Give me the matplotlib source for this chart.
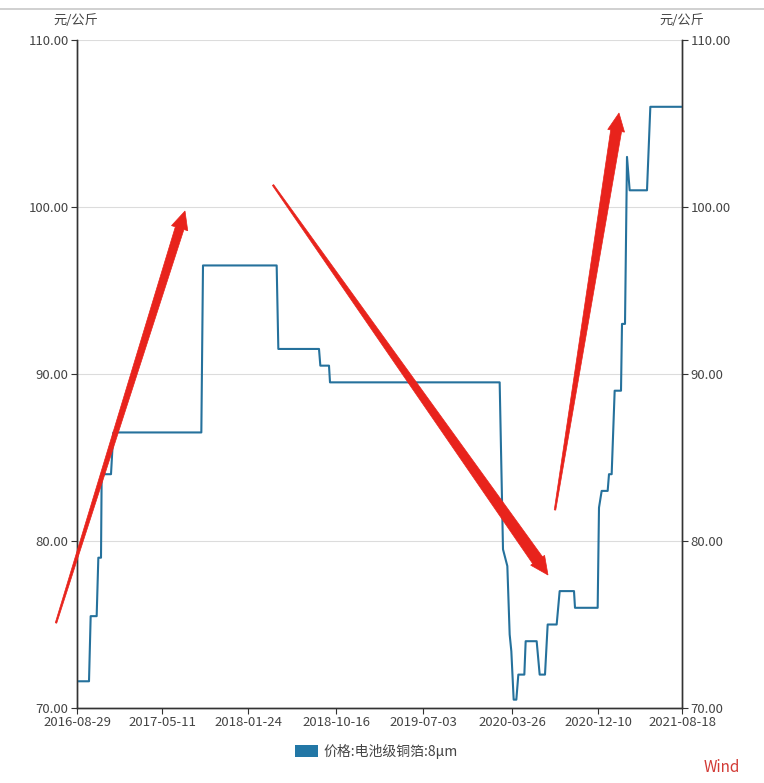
import matplotlib
matplotlib.use("Agg")
import matplotlib.pyplot as plt
import numpy as np
import pandas as pd
from matplotlib.patches import Patch, Polygon

plt.rcParams["font.family"] = ["Noto Sans CJK SC", "DejaVu Sans"]

# ── Data ──────────────────────────────────────────────────────────────────────

DATES = [
    "2016-08-29", "2016-10-04", "2016-10-09", "2016-10-27", "2016-11-01",
    "2016-11-09", "2016-11-11", "2016-12-09", "2016-12-16", "2017-09-06",
    "2017-09-11", "2018-04-20", "2018-04-25", "2018-08-25", "2018-08-29",
    "2018-09-24", "2018-09-27", "2020-02-18", "2020-02-28", "2020-03-12",
    "2020-03-19", "2020-03-24", "2020-03-31", "2020-04-08", "2020-04-14",
    "2020-05-02", "2020-05-06", "2020-06-08", "2020-06-17", "2020-07-03",
    "2020-07-11", "2020-08-07", "2020-08-16", "2020-09-28", "2020-10-01",
    "2020-12-08", "2020-12-12", "2020-12-20", "2021-01-07", "2021-01-11",
    "2021-01-19", "2021-01-28", "2021-02-16", "2021-02-19", "2021-02-28",
    "2021-03-06", "2021-03-14", "2021-05-05", "2021-05-15", "2021-08-18",
]
PRICES = [
    71.6, 71.6, 75.5, 75.5, 79.0,
    79.0, 84.0, 84.0, 86.5, 86.5,
    96.5, 96.5, 91.5, 91.5, 90.5,
    90.5, 89.5, 89.5, 79.5, 78.5,
    74.4, 73.4, 70.5, 70.5, 72.0,
    72.0, 74.0, 74.0, 72.0, 72.0,
    75.0, 75.0, 77.0, 77.0, 76.0,
    76.0, 82.0, 83.0, 83.0, 84.0,
    84.0, 89.0, 89.0, 93.0, 93.0,
    103.0, 101.0, 101.0, 106.0, 106.0,
]

X_TICKS = ["2016-08-29", "2017-05-11", "2018-01-24", "2018-10-16",
           "2019-07-03", "2020-03-26", "2020-12-10", "2021-08-18"]
Y_TICKS = [70, 80, 90, 100, 110]

SERIES_NAME = "价格:电池级铜箔:8μm"
UNIT = "元/公斤"

# hand-drawn red arrows, in figure pixels (x0, y0, x1, y1, start width, shaft width at head)
ARROWS = [
    (56, 623, 185, 211, 1.5, 9),
    (273, 185, 548, 575, 1.5, 12),
    (555, 510, 619, 113, 1.5, 11),
]

LINE_COLOR = "#25719c"
RED = "#e8231c"
TEXT = "#444444"
W, H = 764, 783


def tapered_arrow(fig, x0, y0, x1, y1, w0, w1, hl=18, hw=17):
    p0 = np.array([x0, H - y0], float)
    p1 = np.array([x1, H - y1], float)
    d = (p1 - p0) / np.linalg.norm(p1 - p0)
    n = np.array([-d[1], d[0]])
    base = p1 - d * hl
    pts = [
        p0 + n * w0 / 2, base + n * w1 / 2, base + n * hw / 2, p1,
        base - n * hw / 2, base - n * w1 / 2, p0 - n * w0 / 2,
    ]
    pts = [(p[0] / W, p[1] / H) for p in pts]
    fig.patches.append(Polygon(pts, closed=True, transform=fig.transFigure,
                               facecolor=RED, edgecolor=RED, lw=0.5, zorder=10))


fig = plt.figure(figsize=(W / 100, H / 100), dpi=100)
ax = fig.add_axes([77 / W, 1 - 708 / H, 605 / W, 668 / H])

dates = pd.to_datetime(DATES)
ax.plot(dates, PRICES, color=LINE_COLOR, lw=1.5, zorder=3)

ax.set_xlim(dates[0], dates[-1])
ax.set_ylim(Y_TICKS[0], Y_TICKS[-1])
ax.set_xticks(pd.to_datetime(X_TICKS))
ax.set_xticklabels(X_TICKS)
ax.set_yticks(Y_TICKS)
ax.set_yticklabels([f"{v:.2f}" for v in Y_TICKS])
ax.grid(axis="y", color="#dcdcdc", lw=0.8)
ax.set_axisbelow(True)

ax2 = ax.twinx()
ax2.set_ylim(Y_TICKS[0], Y_TICKS[-1])
ax2.set_yticks(Y_TICKS)
ax2.set_yticklabels([f"{v:.2f}" for v in Y_TICKS])

for a in (ax, ax2):
    a.spines["top"].set_visible(False)
    for s in ("left", "right", "bottom"):
        a.spines[s].set_color("#333333")
        a.spines[s].set_linewidth(1.0)
    a.tick_params(labelsize=9.5, color="#333333", labelcolor=TEXT, length=4, width=0.8, pad=2)

fig.text(76 / W, 1 - 20 / H, UNIT, ha="center", va="center", fontsize=9.5, color=TEXT)
fig.text(682 / W, 1 - 20 / H, UNIT, ha="center", va="center", fontsize=9.5, color=TEXT)

fig.legend(handles=[Patch(facecolor="#2277a6", edgecolor="none", label=SERIES_NAME)],
           loc="center", bbox_to_anchor=(376 / W, 1 - 751 / H), frameon=False,
           fontsize=10, handlelength=1.65, handleheight=1.0, handletextpad=0.4,
           labelcolor=TEXT)

fig.text(722 / W, 1 - 768 / H, "Wind", ha="center", va="center", fontsize=11, color="#d23a35")

# thin header rule at the top of the screenshot
fig.add_artist(plt.Line2D([0, 1], [1 - 9 / H, 1 - 9 / H], color="#c8c8c8", lw=1.2))

for arr in ARROWS:
    tapered_arrow(fig, *arr)

fig.savefig("out.png", dpi=100)
